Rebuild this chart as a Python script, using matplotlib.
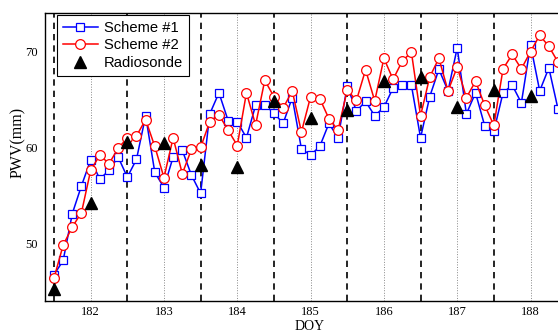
import numpy as np
import matplotlib
matplotlib.use('Agg')
import matplotlib.pyplot as plt

# 3-hourly samples starting at DOY 181.5
doy = 181.5 + np.arange(56) / 8.0

scheme1 = [46.7, 48.2, 53.1, 56.0, 58.7, 56.7, 57.6, 59.0, 56.9, 58.75,
           63.3, 57.4, 55.8, 59.0, 59.7, 57.1, 55.2, 63.5, 65.7, 62.8,
           62.7, 61.0, 64.4, 64.4, 63.6, 62.5, 65.2, 59.85, 59.2, 60.1,
           62.5, 61.0, 66.4, 63.8, 64.8, 63.3, 64.2, 66.2, 66.5, 66.5,
           61.0, 65.3, 68.15, 65.9, 70.4, 63.5, 65.7, 62.25, 61.7, 65.7,
           66.5, 64.65, 70.7, 65.9, 68.3, 64.0]
scheme2 = [46.35, 49.8, 51.7, 53.2, 57.6, 59.2, 58.3, 59.9, 61.0, 61.2,
           62.9, 60.1, 56.85, 61.0, 57.25, 59.8, 60.0, 62.7, 63.4, 61.8,
           60.2, 65.7, 62.35, 67.0, 65.3, 64.1, 65.9, 61.6, 65.3, 65.1,
           63.0, 61.8, 66.0, 64.9, 68.1, 64.85, 69.3, 67.1, 69.0, 69.95,
           63.3, 67.35, 69.3, 65.9, 68.4, 65.2, 66.9, 64.4, 62.3, 68.2,
           69.7, 68.2, 70.0, 71.7, 70.55, 68.9]

rs_doy = [181.5, 182.0, 182.5, 183.0, 183.5, 184.0, 184.5,
          185.0, 185.5, 186.0, 186.5, 187.0, 187.5, 188.0]
rs_pwv = [45.25, 54.2, 60.6, 60.5, 58.2, 58.0, 64.85,
          63.1, 63.9, 66.9, 67.3, 64.2, 66.0, 65.4]

days = [182, 183, 184, 185, 186, 187, 188]
day_breaks = [181.5, 182.5, 183.5, 184.5, 185.5, 186.5, 187.5]

fig = plt.figure(figsize=(5.58, 3.34), dpi=100)
ax = fig.add_axes([0.0806, 0.0997, 0.949, 0.8605])

for d in days:
    ax.axvline(d, color='#888888', ls=':', lw=0.7, zorder=1)
for d in day_breaks:
    ax.axvline(d, color='black', ls=(0, (3.8, 3.0)), lw=1.2, zorder=1)

ax.plot(doy, scheme1, '-s', color='#0000ff', lw=1.1, ms=6.2,
        mfc='white', mec='#0000ff', mew=0.9, label='Scheme #1', zorder=3)
ax.plot(doy, scheme2, '-o', color='#ff0000', lw=1.1, ms=7,
        mfc='white', mec='#ff0000', mew=0.9, label='Scheme #2', zorder=4)
ax.plot(rs_doy, rs_pwv, '^', color='black', ms=8.5, ls='none',
        label='Radiosonde', zorder=5)

ax.set_xlim(181.377, 188.6)
ax.set_ylim(44, 74)
ax.set_xticks(days)
ax.set_yticks([50, 60, 70])
ax.tick_params(length=0, labelsize=9, pad=5)
for lab in ax.get_xticklabels() + ax.get_yticklabels():
    lab.set_family('Liberation Serif')
ax.tick_params(axis='x', pad=4)

ax.set_xlabel('DOY', family='Liberation Serif', fontsize=10, labelpad=1)
ax.set_ylabel('PWV(mm)', family='Liberation Serif', fontsize=11.5)
ax.yaxis.set_label_coords(-0.036, 0.55)

for s in ax.spines.values():
    s.set_linewidth(1.0)

leg = ax.legend(loc='upper left', bbox_to_anchor=(0.022, 0.995),
                borderaxespad=0, fancybox=False, framealpha=1,
                edgecolor='black', prop={'family': 'Liberation Sans', 'size': 10.6},
                handlelength=2.4, handletextpad=0.4, labelspacing=0.24,
                borderpad=0.42)
leg.get_frame().set_linewidth(0.8)

fig.savefig('out.png', dpi=100)
